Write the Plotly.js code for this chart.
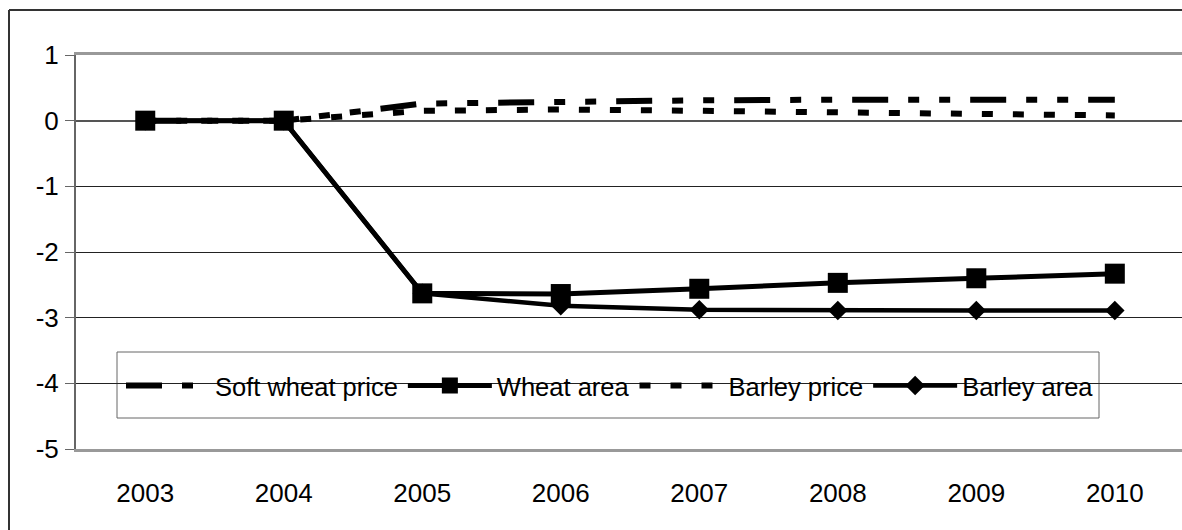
<!DOCTYPE html>
<html>
<head>
<meta charset="utf-8">
<script src="https://cdn.plot.ly/plotly-3.0.1.min.js"></script>
<style>
html,body{margin:0;padding:0;background:#fff;overflow:hidden;width:1182px;height:530px;}
#chart{position:absolute;left:0;top:0;width:1182px;height:530px;}
</style>
</head>
<body>
<div id="chart"></div>
<script>
const years = ['2003','2004','2005','2006','2007','2008','2009','2010'];
const softWheatPrice = [0, 0, 0.26, 0.29, 0.31, 0.32, 0.32, 0.32];
const wheatArea      = [0, 0, -2.63, -2.64, -2.56, -2.47, -2.40, -2.33];
const barleyPrice    = [0, 0, 0.15, 0.17, 0.15, 0.12, 0.09, 0.08];
const barleyArea     = [0, 0, -2.63, -2.82, -2.88, -2.89, -2.89, -2.89];
const yTicks = [1, 0, -1, -2, -3, -4, -5];

const font = {family: 'Liberation Sans, Arial, sans-serif', size: 26, color: '#000'};
const legendFont = {family: 'Liberation Sans, Arial, sans-serif', size: 25.5, color: '#000'};

const traces = [
  {x: years, y: softWheatPrice, name: 'Soft wheat price', mode: 'lines',
   line: {color: '#000', width: 6, dash: '36px,20px,11px,20px,11px,20px'}},
  {x: years, y: wheatArea, name: 'Wheat area', mode: 'lines+markers',
   line: {color: '#000', width: 5}, marker: {symbol: 'square', size: 20, color: '#000'}},
  {x: years, y: barleyPrice, name: 'Barley price', mode: 'lines',
   line: {color: '#000', width: 6, dash: '11px,20px'}},
  {x: years, y: barleyArea, name: 'Barley area', mode: 'lines+markers',
   line: {color: '#000', width: 4.5}, marker: {symbol: 'diamond', size: 15, color: '#000'}}
];

// plot area: x 76..1182, y 55..449 (394 px); category range widened so slots stay ~138.5 px
const plotW = 1182 - 76;
const px = v => (v - 76) / plotW;
const py = v => (449 - v) / 394;

const layout = {
  width: 1182, height: 530,
  margin: {l: 76, r: 0, t: 55, b: 81},
  paper_bgcolor: '#fff', plot_bgcolor: '#fff',
  font: font,
  showlegend: true,
  legend: {
    orientation: 'h', x: px(121), xanchor: 'left', y: py(386), yanchor: 'middle',
    borderwidth: 0, bgcolor: 'rgba(0,0,0,0)',
    font: legendFont, itemwidth: 84, traceorder: 'normal'
  },
  shapes: [
    {type: 'rect', xref: 'paper', yref: 'paper', layer: 'below',
     x0: px(117), x1: px(1099), y0: py(418), y1: py(352),
     line: {color: '#666', width: 1}, fillcolor: '#fff'},
    {type: 'line', xref: 'paper', yref: 'paper', layer: 'above',
     x0: px(9), x1: px(9), y0: py(10), y1: py(540),
     line: {color: '#333', width: 2}},
    {type: 'line', xref: 'paper', yref: 'paper', layer: 'above',
     x0: px(9), x1: px(1190), y0: py(10), y1: py(10),
     line: {color: '#333', width: 2}}
  ],
  xaxis: {
    type: 'category', categoryarray: years, range: [-0.5, 7.485],
    showgrid: false, zeroline: false,
    showline: true, linecolor: '#999', linewidth: 3, mirror: true,
    ticks: '', tickfont: font, ticklabelstandoff: 19
  },
  xaxis2: {
    overlaying: 'x', anchor: 'free', position: 5/6, side: 'bottom',
    range: [-0.5, 7.485], tickvals: [0.5, 1.5, 2.5, 3.5, 4.5, 5.5, 6.5],
    ticks: 'outside', ticklen: 9, tickcolor: '#555', tickwidth: 1,
    showticklabels: false, showgrid: false, zeroline: false, showline: false
  },
  yaxis: {
    range: [-5, 1], tickvals: yTicks, ticktext: yTicks.map(String),
    showgrid: true, gridcolor: '#222', gridwidth: 1,
    zeroline: true, zerolinecolor: '#555', zerolinewidth: 2,
    showline: true, linecolor: '#666', linewidth: 2,
    ticks: 'outside', ticklen: 9, tickcolor: '#666', tickwidth: 1,
    tickfont: font, ticklabelstandoff: 1
  }
};

Plotly.newPlot('chart', traces, layout, {displayModeBar: false, staticPlot: true});
</script>
</body>
</html>
